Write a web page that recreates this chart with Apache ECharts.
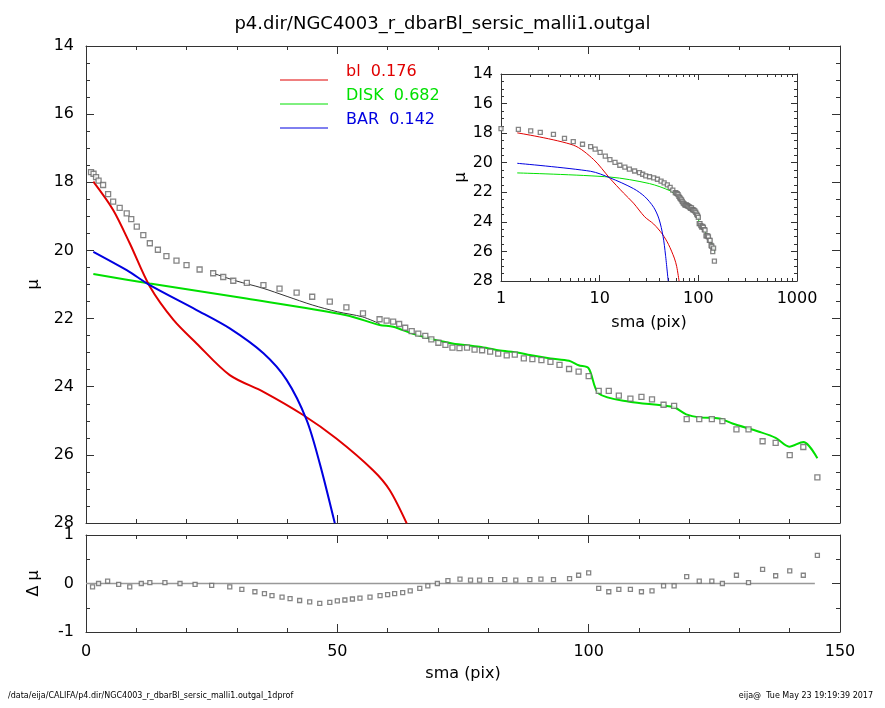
<!DOCTYPE html>
<html><head><meta charset="utf-8">
<script src="https://cdn.jsdelivr.net/npm/echarts@6/dist/echarts.min.js"></script>
<style>html,body{margin:0;padding:0;background:#fff}#c{width:885px;height:708px}</style>
</head><body><div id="c"></div>
<script>
const obsX=[1,1.5,2,2.5,3.4,4.4,5.4,6.7,8.1,9,10.1,11.4,12.7,14.3,16,18,20,22.6,25.3,27.3,29.3,32,35.3,38.5,41.9,45,48.5,51.8,55.1,58.4,59.8,61.1,62.3,63.5,64.8,66.1,67.5,68.7,70.1,71.5,72.9,74.3,75.8,77.3,78.8,80.4,82.0,83.7,85.3,87.1,88.8,90.6,92.4,94.2,96.1,98.0,100.0,102,104,106,108.3,110.5,112.6,114.9,117,119.5,122,124.5,126.6,129.4,131.8,134.6,137.2,140,142.7,145.5];
const obsY=[17.7,17.75,17.85,17.95,18.08,18.35,18.57,18.75,18.91,19.08,19.3,19.55,19.79,19.98,20.17,20.3,20.43,20.56,20.67,20.78,20.89,20.95,21.02,21.12,21.24,21.36,21.5,21.67,21.85,22.02,22.06,22.09,22.16,22.27,22.37,22.44,22.51,22.61,22.71,22.77,22.85,22.87,22.85,22.91,22.93,22.97,23.03,23.08,23.06,23.17,23.19,23.22,23.27,23.36,23.48,23.56,23.69,24.12,24.12,24.26,24.35,24.3,24.37,24.53,24.56,24.95,24.95,24.95,25.01,25.25,25.25,25.6,25.65,26.01,25.77,26.66];
const diskX=[1.46,12.7,31.9,51.8,58.4,61.1,65.1,68.7,72.9,78.3,82.0,86.1,88.3,92.4,96.1,98.0,100.0,102.0,108.1,116.7,119.4,122.0,126.0,128.6,133.9,137.2,139.9,142.7,145.5];
const diskY=[20.69,20.97,21.41,21.9,22.19,22.24,22.45,22.6,22.73,22.83,22.93,23.0,23.07,23.17,23.24,23.37,23.46,24.2,24.44,24.59,24.81,24.9,24.93,25.08,25.32,25.5,25.76,25.62,26.1];
const blX=[1.46,5.4,8.7,12.7,17.4,22.0,28.6,35.3,43.2,49.8,57.1,60.4,63.8];
const blY=[17.98,18.81,19.79,21.06,22.04,22.73,23.66,24.15,24.83,25.52,26.45,27.03,28.01];
const barX=[1.46,8.1,12.7,22.0,28.6,35.3,39.9,43.9,46.5,49.5];
const barY=[20.04,20.58,21.02,21.75,22.29,23.02,23.8,24.98,26.25,28.01];
const totX=[25.3,30,35,40,45,50,55,58.4];
const totY=[20.67,20.9,21.1,21.35,21.6,21.8,21.95,22.15];
const resX=[1.3,2.5,4.3,6.5,8.7,11,12.7,15.7,18.7,21.7,25,28.6,31,33.6,35.5,37,39,40.6,42.5,44.5,46.5,48.5,50,51.5,53,54.5,56.5,58.5,60,61.4,63,64.5,66.4,68,69.9,72,74.4,76.5,78.3,80.5,83.3,85.5,88.3,90.5,93,96.2,98,100,102,104,106,108.3,110.5,112.6,114.9,117,119.5,122,124.5,126.6,129.4,131.8,134.6,137.2,140,142.7,145.5];
const resY=[-0.07,0,0.05,-0.02,-0.07,0,0.02,0.02,0,-0.02,-0.04,-0.07,-0.12,-0.17,-0.21,-0.25,-0.28,-0.31,-0.35,-0.38,-0.41,-0.39,-0.36,-0.34,-0.32,-0.3,-0.28,-0.25,-0.23,-0.21,-0.19,-0.15,-0.1,-0.05,0,0.06,0.09,0.07,0.07,0.08,0.08,0.07,0.08,0.09,0.08,0.1,0.17,0.22,-0.1,-0.17,-0.12,-0.12,-0.17,-0.15,-0.05,-0.05,0.14,0.05,0.05,0,0.17,0.02,0.29,0.16,0.26,0.17,0.58];
const mainYTicks=[14,28,2], resYTicks=[-1,1,1];

const zip=(a,b)=>a.map((v,i)=>[v,b[i]]);
const font='DejaVu Sans';
const ax='#333';
function xa(grid,min,max,opts){return Object.assign({type:'value',gridIndex:grid,min,max,axisLine:{onZero:false,lineStyle:{color:ax}},axisTick:{inside:true,length:8,lineStyle:{color:ax}},minorTick:{show:true,splitNumber:5,length:4,lineStyle:{color:ax}},splitLine:{show:false},axisLabel:{show:false}},opts||{});}
const logLab={show:true,fontFamily:font,fontSize:16,color:'#000',margin:10,formatter:v=>String(Math.round(v))};
const xAxis=[
 xa(0,0,150,{interval:50}),
 xa(0,0,150,{interval:50,position:'top'}),
 xa(1,0,150,{interval:50,axisLabel:{show:true,fontFamily:font,fontSize:16,color:'#000',margin:12},name:'sma (pix)',nameLocation:'middle',nameGap:34,nameTextStyle:{fontFamily:font,fontSize:16,color:'#000'}}),
 xa(1,0,150,{interval:50,position:'top'}),
 xa(2,1,1000,{type:'log',logBase:10,minorTick:{show:true,splitNumber:9,length:3,lineStyle:{color:ax}},axisTick:{inside:true,length:6,lineStyle:{color:ax}},axisLabel:logLab,name:'sma (pix)',nameLocation:'middle',nameGap:34,nameTextStyle:{fontFamily:font,fontSize:16,color:'#000'}}),
 xa(2,1,1000,{type:'log',logBase:10,position:'top',minorTick:{show:true,splitNumber:9,length:3,lineStyle:{color:ax}},axisTick:{inside:true,length:6,lineStyle:{color:ax}}})
];
function ya(grid,min,max,iv,opts){return Object.assign({type:'value',gridIndex:grid,min,max,interval:iv,axisLine:{show:true,onZero:false,lineStyle:{color:ax}},axisTick:{show:true,inside:true,length:8,lineStyle:{color:ax}},minorTick:{show:true,splitNumber:4,length:4,lineStyle:{color:ax}},splitLine:{show:false},axisLabel:{show:false}},opts||{});}
const lab={show:true,fontFamily:font,fontSize:16,color:'#000',margin:12};
const yAxis=[
 ya(0,mainYTicks[0],mainYTicks[1],mainYTicks[2],{inverse:true,axisLabel:lab,name:'μ',nameLocation:'middle',nameGap:44,nameRotate:90,nameTextStyle:{fontFamily:font,fontSize:16,color:'#000'}}),
 ya(0,mainYTicks[0],mainYTicks[1],mainYTicks[2],{inverse:true,position:'right'}),
 ya(1,resYTicks[0],resYTicks[1],resYTicks[2],{minorTick:{show:true,splitNumber:2,length:4,lineStyle:{color:ax}},axisLabel:lab,name:'Δ μ',nameLocation:'middle',nameGap:44,nameRotate:90,nameTextStyle:{fontFamily:font,fontSize:16,color:'#000'}}),
 ya(1,resYTicks[0],resYTicks[1],resYTicks[2],{position:'right',minorTick:{show:true,splitNumber:2,length:4,lineStyle:{color:ax}}}),
 ya(2,mainYTicks[0],mainYTicks[1],mainYTicks[2],{inverse:true,axisLabel:Object.assign({},lab,{margin:8}),axisTick:{inside:true,length:6,lineStyle:{color:ax}},minorTick:{show:true,splitNumber:4,length:3,lineStyle:{color:ax}},name:'μ',nameLocation:'middle',nameGap:32,nameRotate:90,nameTextStyle:{fontFamily:font,fontSize:16,color:'#000'}}),
 ya(2,mainYTicks[0],mainYTicks[1],mainYTicks[2],{inverse:true,position:'right',axisTick:{inside:true,length:6,lineStyle:{color:ax}},minorTick:{show:true,splitNumber:4,length:3,lineStyle:{color:ax}}})
];
function line(x,y,color,xi,yi,w){return {type:'line',data:zip(x,y),xAxisIndex:xi,yAxisIndex:yi,symbol:'none',lineStyle:{color,width:w||2},smooth:0.3,silent:true,z:3};}
function pts(x,y,xi,yi,s){return {type:'scatter',data:zip(x,y),xAxisIndex:xi,yAxisIndex:yi,symbol:'rect',symbolSize:s||5,itemStyle:{color:'#fff',borderColor:'#666',borderWidth:1.3},silent:true,z:4};}
const series=[
 line(diskX,diskY,'#00e000',0,0,2),
 line(blX,blY,'#e00000',0,0,2),
 line(barX,barY,'#0000e0',0,0,2),
 line(totX,totY,'#333',0,0,1),
 pts(obsX,obsY,0,0,5),
 {type:'line',data:[[0,0],[145,0]],xAxisIndex:2,yAxisIndex:2,symbol:'none',lineStyle:{color:'#999',width:1.5},silent:true},
 pts(resX,resY,2,2,4),
 line(diskX,diskY,'#00e000',4,4,1),
 line(blX,blY,'#e00000',4,4,1),
 line(barX,barY,'#0000e0',4,4,1),
 pts(obsX,obsY,4,4,4)
];
const legendItems=[['bl  0.176','#e00000'],['DISK  0.682','#00e000'],['BAR  0.142','#0000e0']];
const graphic=[];
legendItems.forEach((it,i)=>{
 graphic.push({type:'line',shape:{x1:280,y1:80+i*24,x2:328,y2:80+i*24},style:{stroke:it[1],lineWidth:1}});
 graphic.push({type:'text',left:346,top:64+i*24,style:{text:it[0],fill:it[1],font:'16px "DejaVu Sans"'}});
});
graphic.push({type:'text',left:8,top:692,style:{text:'/data/eija/CALIFA/p4.dir/NGC4003_r_dbarBl_sersic_malli1.outgal_1dprof',fill:'#000',font:'8px "DejaVu Sans"'}});
graphic.push({type:'text',right:12,top:692,style:{text:'eija@  Tue May 23 19:19:39 2017',fill:'#000',font:'8px "DejaVu Sans"'}});
const chart=echarts.init(document.getElementById('c'));
chart.setOption({
 animation:false,
 title:{text:'p4.dir/NGC4003_r_dbarBl_sersic_malli1.outgal',left:'center',top:10,textStyle:{fontFamily:font,fontSize:18,fontWeight:'normal',color:'#000'}},
 grid:[{left:86,right:45,top:46,height:477},{left:86,right:45,top:535,height:97},{left:501,right:88,top:74,height:207}],
 xAxis,yAxis,series,graphic
});
</script></body></html>
